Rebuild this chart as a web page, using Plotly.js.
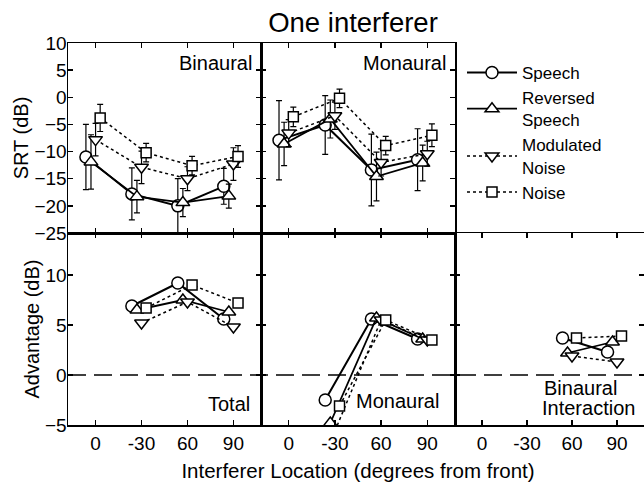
<!DOCTYPE html>
<html><head><meta charset="utf-8">
<script src="https://cdn.plot.ly/plotly-3.0.1.min.js"></script>
<style>html,body{margin:0;padding:0;background:#fff}#chart{width:644px;height:492px}</style>
</head><body><div id="chart"></div>
<script>
// Interferer locations (degrees from front)
const locations = ['0', '-30', '60', '90'];
const seriesNames = ['Speech', 'Reversed<br>Speech', 'Modulated<br>Noise', 'Noise'];

// SRT (dB), Binaural panel, locations 0,-30,60,90
const srtBinSpeech     = [-11.0, -17.8, -20.0, -16.4];
const srtBinSpeechErr  = [6.0, 4.8, 5.0, 3.3];
const srtBinReversed   = [-11.9, -18.3, -19.4, -18.2];
const srtBinReversedErr= [5.0, 3.0, 2.6, 2.2];
const srtBinModulated  = [-7.8, -12.9, -15.0, -12.3];
const srtBinModulatedErr=[3.0, 3.0, 2.2, 3.0];
const srtBinNoise      = [-3.8, -10.2, -12.6, -10.9];
const srtBinNoiseErr   = [2.5, 1.7, 1.7, 2.0];

// SRT (dB), Monaural panel
const srtMonSpeech     = [-7.9, -5.1, -13.4, -11.5];
const srtMonSpeechErr  = [7.3, 5.4, 6.6, 5.7];
const srtMonReversed   = [-8.6, -4.0, -14.6, -12.1];
const srtMonReversedErr= [4.0, 3.5, 4.5, 3.3];
const srtMonModulated  = [-6.6, -3.4, -12.0, -10.4];
const srtMonModulatedErr=[2.5, 2.5, 2.5, 2.3];
const srtMonNoise      = [-3.6, -0.2, -8.9, -7.0];
const srtMonNoiseErr   = [1.8, 1.7, 1.7, 2.1];

// Advantage (dB), Total, locations -30,60,90
const totalLocIdx      = [1, 2, 3];
const advTotSpeech     = [6.9, 9.2, 5.6];
const advTotReversed   = [6.5, 7.5, 6.3];
const advTotModulated  = [5.2, 7.3, 4.8];
const advTotNoise      = [6.7, 9.0, 7.2];

// Advantage (dB), Monaural, locations -30,60,90
const monLocIdx        = [1, 2, 3];
const advMonSpeech     = [-2.5, 5.6, 3.6];
const advMonReversed   = [-4.8, 5.7, 3.6];
const advMonModulated  = [-5.6, 5.5, 3.5];
const advMonNoise      = [-3.1, 5.5, 3.5];

// Advantage (dB), Binaural Interaction, locations 60,90
const biLocIdx         = [2, 3];
const advBiSpeech      = [3.7, 2.3];
const advBiReversed    = [2.2, 3.3];
const advBiModulated   = [1.9, 1.3];
const advBiNoise       = [3.7, 3.9];

// ---- styles ----
const symbols = ['circle', 'triangle-up', 'triangle-down', 'square'];
const dashes = ['solid', 'solid', 'dot', 'dot'];
const widths = [2, 1.8, 1.5, 1.5];
const sizes = [12, 12, 12, 10];
const offsets = [-0.21, -0.1, 0, 0.1];

const panels = [
  {xa: 'x', ya: 'y', idx: [0, 1, 2, 3],
   vals: [srtBinSpeech, srtBinReversed, srtBinModulated, srtBinNoise],
   errs: [srtBinSpeechErr, srtBinReversedErr, srtBinModulatedErr, srtBinNoiseErr]},
  {xa: 'x2', ya: 'y2', idx: [0, 1, 2, 3],
   vals: [srtMonSpeech, srtMonReversed, srtMonModulated, srtMonNoise],
   errs: [srtMonSpeechErr, srtMonReversedErr, srtMonModulatedErr, srtMonNoiseErr]},
  {xa: 'x3', ya: 'y3', idx: totalLocIdx,
   vals: [advTotSpeech, advTotReversed, advTotModulated, advTotNoise]},
  {xa: 'x4', ya: 'y4', idx: monLocIdx,
   vals: [advMonSpeech, advMonReversed, advMonModulated, advMonNoise]},
  {xa: 'x5', ya: 'y5', idx: biLocIdx,
   vals: [advBiSpeech, advBiReversed, advBiModulated, advBiNoise]}
];

const traces = [];
panels.forEach((p, pi) => {
  for (let s = 0; s < 4; s++) {
    const t = {
      type: 'scatter', mode: 'lines+markers',
      x: p.idx.map(i => i + offsets[s]),
      y: p.vals[s],
      xaxis: p.xa, yaxis: p.ya,
      name: seriesNames[s], legendgroup: 's' + s, showlegend: pi === 0,
      line: {color: 'black', width: widths[s], dash: dashes[s]},
      marker: {symbol: symbols[s], size: sizes[s], color: 'white', line: {color: 'black', width: 1.5}},
      cliponaxis: true
    };
    if (p.errs) t.error_y = {type: 'data', array: p.errs[s], visible: true, color: 'black', thickness: 1.2, width: 3};
    traces.push(t);
  }
});

const W = 644, H = 492;
const px = v => v / W, py = v => 1 - v / H;
const colL = [px(68), px(261)], colM = [px(261), px(455)], colR = [px(455), 1];
const rowT = [py(233), py(43)], rowB = [py(425), py(233)];

const axBase = {showline: true, linecolor: 'black', linewidth: 1.5, mirror: 'ticks',
  ticks: 'inside', ticklen: 5, tickwidth: 1.5, tickcolor: 'black',
  showgrid: false, zeroline: false, fixedrange: true,
  tickfont: {size: 19, color: 'black'}};
const xBase = Object.assign({}, axBase, {tickmode: 'array', tickvals: [0, 1, 2, 3], ticktext: locations,
  range: [-0.6, 3.6], ticklabelstandoff: 1});

const layout = {
  width: W, height: H,
  margin: {l: 0, r: 0, t: 0, b: 0},
  paper_bgcolor: 'white', plot_bgcolor: 'white',
  font: {family: 'Liberation Sans, Arial, sans-serif', color: 'black', size: 19},
  title: {text: 'One interferer', x: px(353), xanchor: 'center', y: 1 - 22 / H, yanchor: 'middle', font: {size: 27.5}},
  showlegend: true,
  legend: {x: px(462), y: py(55), xanchor: 'left', yanchor: 'top', bgcolor: 'rgba(0,0,0,0)',
    font: {size: 17}, tracegroupgap: 0, itemwidth: 50},
  xaxis: Object.assign({}, xBase, {domain: colL, anchor: 'y', showticklabels: false}),
  yaxis: Object.assign({}, axBase, {domain: rowT, anchor: 'x', range: [-25, 10], dtick: 5, tick0: 0,
    ticklabelstandoff: -4, title: {text: 'SRT (dB)', font: {size: 20}, standoff: 0}}),
  xaxis2: Object.assign({}, xBase, {domain: colM, anchor: 'y2', showticklabels: false}),
  yaxis2: Object.assign({}, axBase, {domain: rowT, anchor: 'x2', range: [-25, 10], dtick: 5, tick0: 0, showticklabels: false}),
  xaxis3: Object.assign({}, xBase, {domain: colL, anchor: 'y3'}),
  yaxis3: Object.assign({}, axBase, {domain: rowB, anchor: 'x3', range: [-5, 14.2], dtick: 5, tick0: 0,
    ticklabelstandoff: -4, title: {text: 'Advantage (dB)', font: {size: 20}, standoff: 0}}),
  xaxis4: Object.assign({}, xBase, {domain: colM, anchor: 'y4',
    title: {text: 'Interferer Location (degrees from front)', font: {size: 20.5}, standoff: 10}}),
  yaxis4: Object.assign({}, axBase, {domain: rowB, anchor: 'x4', range: [-5, 14.2], dtick: 5, tick0: 0, showticklabels: false}),
  xaxis5: Object.assign({}, xBase, {domain: colR, anchor: 'y5'}),
  yaxis5: Object.assign({}, axBase, {domain: rowB, anchor: 'x5', range: [-5, 14.2], dtick: 5, tick0: 0, showticklabels: false}),
  shapes: [
    {type: 'line', xref: 'paper', yref: 'y3', x0: colL[0], x1: 1, y0: 0, y1: 0,
     line: {color: 'black', width: 1.5, dash: '18px,8px'}}
  ],
  annotations: [
    {text: 'Binaural', xref: 'paper', yref: 'paper', x: px(254), y: py(63), xanchor: 'right', yanchor: 'middle', showarrow: false, font: {size: 20}},
    {text: 'Monaural', xref: 'paper', yref: 'paper', x: px(448), y: py(63), xanchor: 'right', yanchor: 'middle', showarrow: false, font: {size: 20}},
    {text: 'Total', xref: 'paper', yref: 'paper', x: px(252), y: py(404), xanchor: 'right', yanchor: 'middle', showarrow: false, font: {size: 20}},
    {text: 'Monaural', xref: 'paper', yref: 'paper', x: px(441), y: py(401), xanchor: 'right', yanchor: 'middle', showarrow: false, font: {size: 20}},
    {text: 'Binaural', xref: 'paper', yref: 'paper', x: px(542), y: py(388), xanchor: 'left', yanchor: 'middle', showarrow: false, font: {size: 20}},
    {text: 'Interaction', xref: 'paper', yref: 'paper', x: px(540), y: py(408), xanchor: 'left', yanchor: 'middle', showarrow: false, font: {size: 20}}
  ]
};

Plotly.newPlot('chart', traces, layout, {displayModeBar: false, staticPlot: true});
</script>
</body></html>
